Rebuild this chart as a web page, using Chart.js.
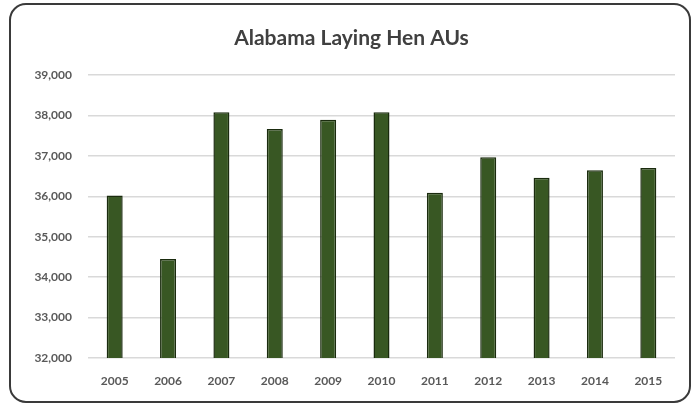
<!DOCTYPE html>
<html>
<head>
<meta charset="utf-8">
<script src="https://cdn.jsdelivr.net/npm/chart.js@4/dist/chart.umd.min.js"></script>
<style>
	body { margin: 0; background: #fff; }
	#wrap { position: relative; width: 693px; height: 404px; }
</style>
</head>
<body>
<div id="wrap"><canvas id="j-canvas-hens" width="693" height="404"></canvas></div>
<script>
var years = ['2005', '2006', '2007', '2008', '2009', '2010', '2011', '2012', '2013', '2014', '2015'];
var henAUs = [36020, 34450, 38080, 37670, 37900, 38080, 36090, 36970, 36460, 36650, 36700];
var yTicks = [32000, 33000, 34000, 35000, 36000, 37000, 38000, 39000];

// rounded frame round the whole chart
var framePlugin = {
	id: 'frame',
	beforeDraw: function(chart) {
		var ctx = chart.ctx;
		ctx.save();
		ctx.fillStyle = '#ffffff';
		ctx.fillRect(0, 0, chart.width, chart.height);
		ctx.strokeStyle = '#3a3a3a';
		ctx.lineWidth = 2;
		ctx.beginPath();
		ctx.roundRect(10, 4, 680, 398, 16);
		ctx.stroke();
		ctx.restore();
	}
};

var ctx = document.getElementById('j-canvas-hens').getContext('2d');
window.myBar = new Chart(ctx, {
	type: 'bar',
	data: {
		labels: years,
		datasets: [{
			label: 'Laying Hen AUs',
			data: henAUs,
			backgroundColor: '#385723',
			borderColor: '#1a2b0e',
			borderWidth: 1.5,
			borderSkipped: 'bottom',
			categoryPercentage: 1,
			barPercentage: 0.3
		}]
	},
	plugins: [framePlugin],
	options: {
		responsive: false,
		animation: false,
		layout: {
			padding: { left: 28, right: 18, top: 0, bottom: 0 }
		},
		plugins: {
			legend: { display: false },
			tooltip: { enabled: false },
			title: {
				display: true,
				text: 'Alabama Laying Hen AUs',
				color: '#404040',
				font: { family: 'Lato', size: 21, weight: 'bold' },
				padding: { top: 26, bottom: 24 }
			}
		},
		scales: {
			x: {
				grid: { display: false, drawTicks: false },
				border: { display: false },
				afterFit: function(scale) {
					scale.height = 46;
				},
				ticks: {
					color: '#595959',
					font: { family: 'Lato', size: 12, weight: 'bold' },
					padding: 16,
					maxRotation: 0
				}
			},
			y: {
				min: 32000,
				max: 39000,
				afterBuildTicks: function(scale) {
					scale.ticks = yTicks.map(function(v) { return { value: v }; });
				},
				afterFit: function(scale) {
					scale.width = 60;
				},
				grid: { color: '#d9d9d9', lineWidth: 1.5, drawTicks: false },
				border: { display: false },
				ticks: {
					color: '#595959',
					font: { family: 'Lato', size: 12, weight: 'bold' },
					padding: 16,
					callback: function(v) { return v.toLocaleString('en-US'); }
				}
			}
		}
	}
});
</script>
</body>
</html>
